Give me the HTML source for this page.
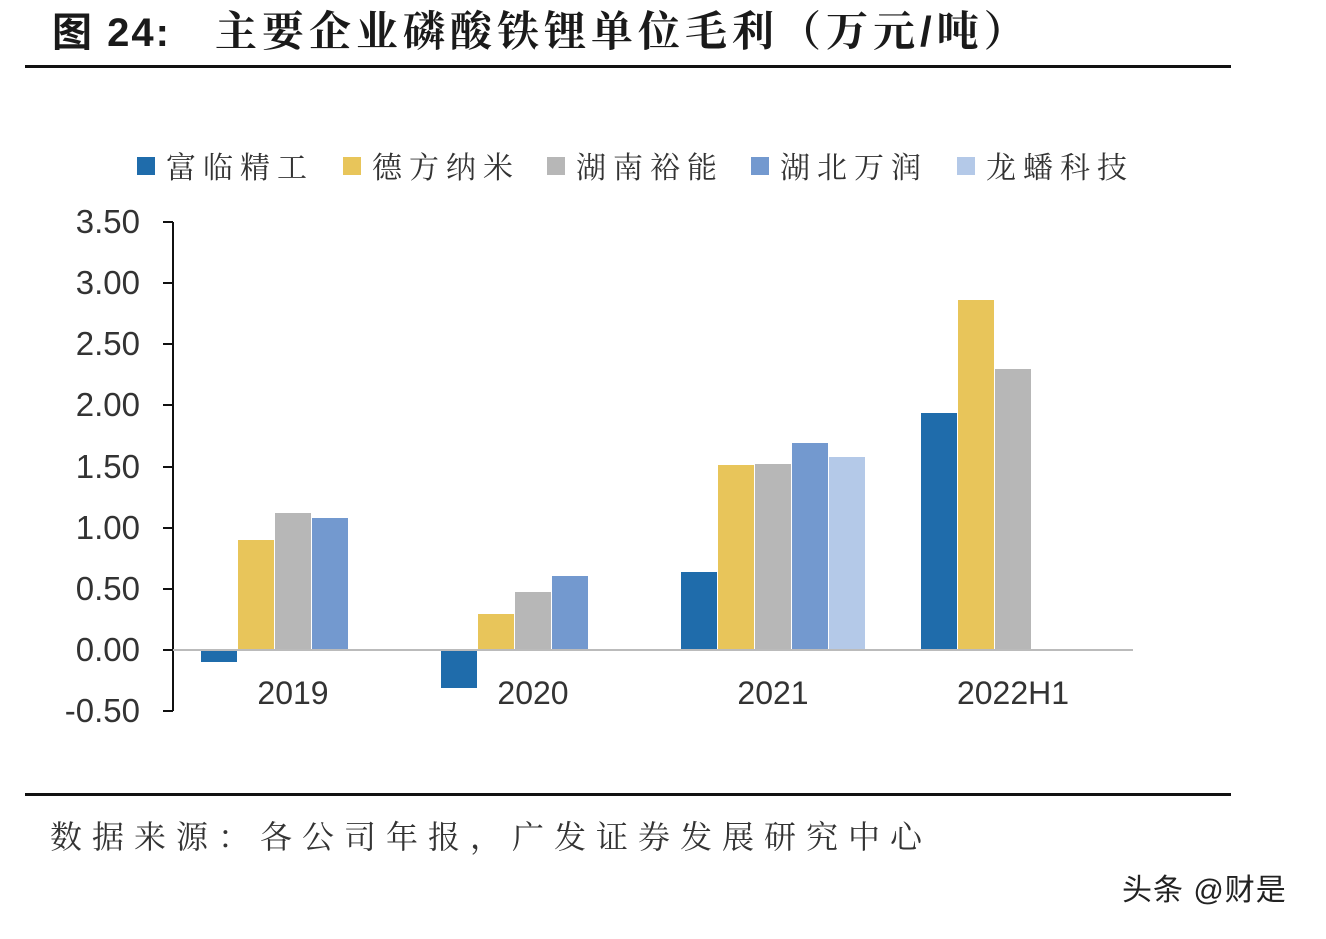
<!DOCTYPE html>
<html><head><meta charset="utf-8"><style>
body{margin:0;background:#fff;}
svg text{font-family:"Liberation Sans","Noto Sans CJK SC",sans-serif;}
</style></head><body>
<svg width="1326" height="934" xmlns="http://www.w3.org/2000/svg">
<rect width="1326" height="934" fill="#fff"/>
<text x="52" y="46" font-size="40" font-weight="bold" fill="#1a1a1a" letter-spacing="2">图 24:</text>
<text x="215" y="46" font-size="42" font-weight="bold" fill="#1a1a1a" letter-spacing="5" style="font-family:'Liberation Sans','Noto Serif CJK SC',serif">主要企业磷酸铁锂单位毛利（万元/吨）</text>
<rect x="25" y="65" width="1206" height="3" fill="#111"/>
<rect x="25" y="793" width="1206" height="3" fill="#111"/>
<g font-size="30" fill="#333" letter-spacing="7">
<rect x="137" y="157" width="18" height="18" fill="#1f6cab"/><text x="166" y="178" style="font-family:'Noto Serif CJK SC',serif">富临精工</text>
<rect x="343" y="157" width="18" height="18" fill="#e8c55a"/><text x="372" y="178" style="font-family:'Noto Serif CJK SC',serif">德方纳米</text>
<rect x="547" y="157" width="18" height="18" fill="#b7b7b7"/><text x="576" y="178" style="font-family:'Noto Serif CJK SC',serif">湖南裕能</text>
<rect x="751" y="157" width="18" height="18" fill="#7399cf"/><text x="780" y="178" style="font-family:'Noto Serif CJK SC',serif">湖北万润</text>
<rect x="957" y="157" width="18" height="18" fill="#b4c9e8"/><text x="986" y="178" style="font-family:'Noto Serif CJK SC',serif">龙蟠科技</text>
</g>
<g font-size="33" fill="#333" text-anchor="end">
<text x="140" y="233">3.50</text><text x="140" y="294">3.00</text><text x="140" y="355">2.50</text>
<text x="140" y="416">2.00</text><text x="140" y="478">1.50</text><text x="140" y="539">1.00</text>
<text x="140" y="600">0.50</text><text x="140" y="661">0.00</text><text x="140" y="722">-0.50</text>
</g>
<g stroke="#111" stroke-width="2">
<line x1="173" y1="222" x2="173" y2="711"/>
<line x1="163" y1="222" x2="173" y2="222"/><line x1="163" y1="283" x2="173" y2="283"/>
<line x1="163" y1="344" x2="173" y2="344"/><line x1="163" y1="405" x2="173" y2="405"/>
<line x1="163" y1="467" x2="173" y2="467"/><line x1="163" y1="528" x2="173" y2="528"/>
<line x1="163" y1="589" x2="173" y2="589"/><line x1="163" y1="650" x2="173" y2="650"/>
<line x1="163" y1="711" x2="173" y2="711"/>
</g>
<g>
<rect x="201" y="650" width="36" height="12" fill="#1f6cab"/>
<rect x="238" y="540" width="36" height="110" fill="#e8c55a"/>
<rect x="275" y="513" width="36" height="137" fill="#b7b7b7"/>
<rect x="312" y="518" width="36" height="132" fill="#7399cf"/>
<rect x="441" y="650" width="36" height="38" fill="#1f6cab"/>
<rect x="478" y="614" width="36" height="36" fill="#e8c55a"/>
<rect x="515" y="592" width="36" height="58" fill="#b7b7b7"/>
<rect x="552" y="576" width="36" height="74" fill="#7399cf"/>
<rect x="681" y="572" width="36" height="78" fill="#1f6cab"/>
<rect x="718" y="465" width="36" height="185" fill="#e8c55a"/>
<rect x="755" y="464" width="36" height="186" fill="#b7b7b7"/>
<rect x="792" y="443" width="36" height="207" fill="#7399cf"/>
<rect x="829" y="457" width="36" height="193" fill="#b4c9e8"/>
<rect x="921" y="413" width="36" height="237" fill="#1f6cab"/>
<rect x="958" y="300" width="36" height="350" fill="#e8c55a"/>
<rect x="995" y="369" width="36" height="281" fill="#b7b7b7"/>
</g>
<line x1="173" y1="650" x2="1133" y2="650" stroke="#bbb" stroke-width="2"/>
<g font-size="32" fill="#333" text-anchor="middle">
<text x="293" y="704">2019</text><text x="533" y="704">2020</text><text x="773" y="704">2021</text><text x="1013" y="704">2022H1</text>
</g>
<text x="50" y="848" font-size="32" fill="#333" letter-spacing="10" style="font-family:'Noto Serif CJK SC',serif">数据来源：各公司年报，广发证券发展研究中心</text>
<text x="1122" y="900" font-size="30" fill="#222" letter-spacing="1">头条 @财是</text>
</svg>
</body></html>
